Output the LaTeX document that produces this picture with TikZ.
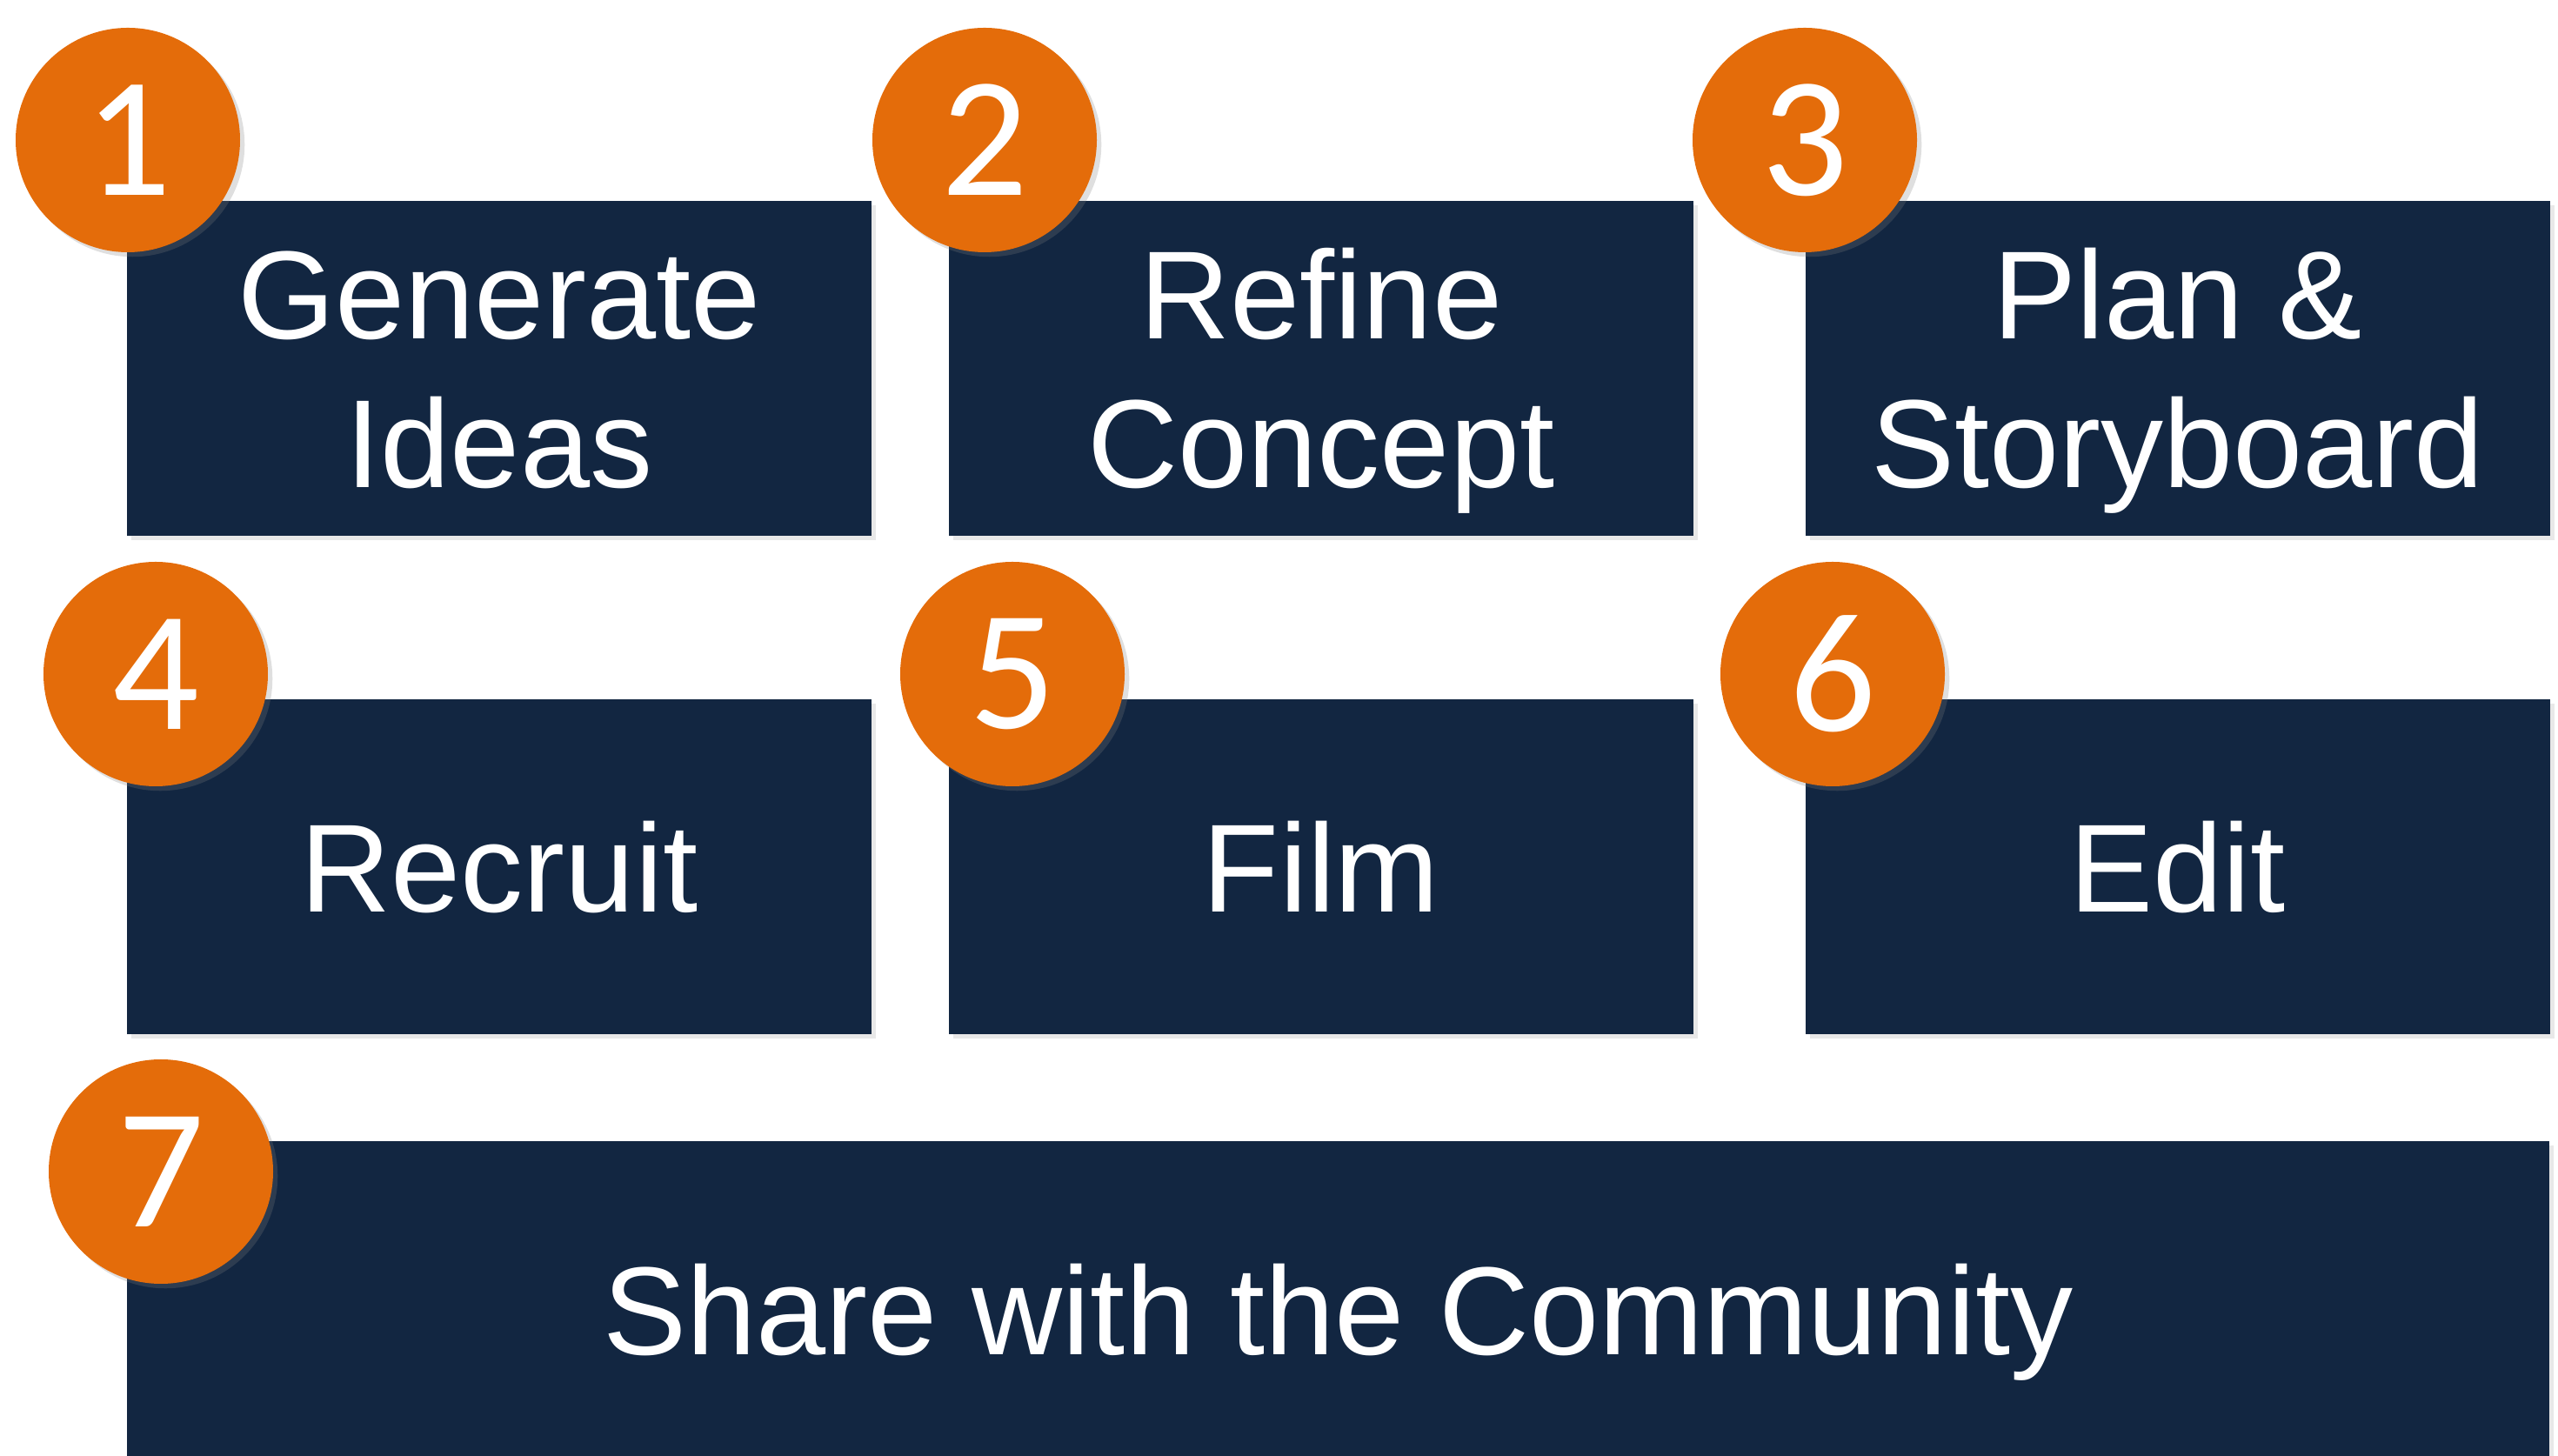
\documentclass[tikz,border=0pt]{standalone}
\usepackage{fontspec}
\setmainfont{Liberation Sans}
\newfontfamily\numfont{Carlito-Regular.ttf}
\usetikzlibrary{shadows}
\definecolor{stagenavy}{RGB}{18,38,65}
\definecolor{badgeorange}{RGB}{228,108,10}
\def\ls{\rule[-9pt]{0pt}{47.4pt}}
\setlength{\lineskiplimit}{-100pt}

\tikzset{
	stage/.style={rectangle, fill=stagenavy, text=white, inner sep=0pt, outer sep=0pt, align=center,
		font=\fontsize{41pt}{48.5pt}\selectfont,
		drop shadow={opacity=0.18, shadow xshift=1.5pt, shadow yshift=-1.5pt}},
	cell/.style={stage, minimum width=8.56cm, minimum height=3.85cm},
	badge/.style={circle, fill=badgeorange, text=white, minimum size=2.58cm, inner sep=0pt,
		font=\numfont\fontsize{56pt}{60pt}\selectfont,
		drop shadow={opacity=0.25, shadow xshift=1.5pt, shadow yshift=-1.5pt}}
}

\begin{document}
\begin{tikzpicture}
		%%%%% START %%%%%
		\clip (0, 0) rectangle (29.41, 16.74);
		
		% row 1
		\node[cell] (gen) at (5.74, 12.505) {\ls Generate\\\ls Ideas};
		\node[cell] (refine) at (15.19, 12.505) {\ls Refine\\\ls Concept};
		\node[cell] (plan) at (25.035, 12.505) {\ls Plan \&\\\ls Storyboard};
		
		% row 2
		\node[cell] (recruit) at (5.74, 6.775) {\ls Recruit};
		\node[cell] (film) at (15.19, 6.775) {\ls Film};
		\node[cell] (edit) at (25.035, 6.775) {\ls Edit};
		
		% row 3
		\node[stage, minimum width=27.85cm, minimum height=3.88cm] (share) at (15.385, 1.68) {\ls Share with the Community};
		
		% numbers
		\node[badge] (num1) at (1.47, 15.13) {1};
		\node[badge] (num2) at (11.32, 15.13) {2};
		\node[badge] (num3) at (20.75, 15.13) {3};
		\node[badge] (num4) at (1.79, 8.99) {4};
		\node[badge] (num5) at (11.64, 8.99) {5};
		\node[badge] (num6) at (21.07, 8.99) {6};
		\node[badge] (num7) at (1.85, 3.27) {7};
		%%%%% END %%%%%
\end{tikzpicture}
\end{document}
